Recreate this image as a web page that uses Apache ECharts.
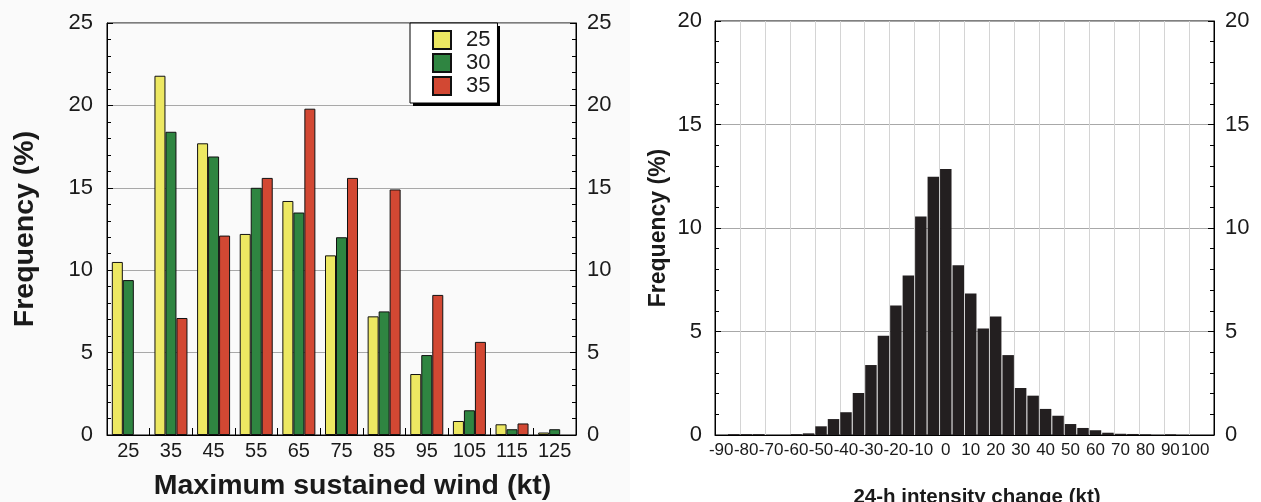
<!DOCTYPE html>
<html>
<head>
<meta charset="utf-8">
<script src="https://cdn.jsdelivr.net/npm/echarts@6.0.0/dist/echarts.min.js"></script>
<style>
  html, body { margin: 0; padding: 0; background: #fff; }
  #main { width: 1261px; height: 502px; }
</style>
</head>
<body>
<div id="main"></div>
<script>
// left panel: frequency by maximum sustained wind, three groups
var windCats = ['25', '35', '45', '55', '65', '75', '85', '95', '105', '115', '125'];
var freq25 = [10.5, 21.8, 17.7, 12.2, 14.2, 10.9, 7.2, 3.7, 0.85, 0.65, 0.15];
var freq30 = [9.4, 18.4, 16.9, 15.0, 13.5, 12.0, 7.5, 4.85, 1.5, 0.35, 0.35];
var freq35 = [null, 7.1, 12.1, 15.6, 19.8, 15.6, 14.9, 8.5, 5.65, 0.7, null];

// right panel: 24-h intensity change histogram (5 kt bins)
var changeBins = ['-90', '-85', '-80', '-75', '-70', '-65', '-60', '-55', '-50', '-45',
                  '-40', '-35', '-30', '-25', '-20', '-15', '-10', '-5', '0', '5',
                  '10', '15', '20', '25', '30', '35', '40', '45', '50', '55',
                  '60', '65', '70', '75', '80', '85', '90', '95', '100', '105'];
var changeFreq = [0, 0.04, 0.04, 0.04, 0, 0, 0.04, 0.08, 0.42, 0.77,
                  1.1, 2.03, 3.38, 4.8, 6.26, 7.7, 10.56, 12.48, 12.85, 8.2,
                  6.84, 5.15, 5.72, 3.86, 2.27, 1.9, 1.26, 0.93, 0.53, 0.34,
                  0.23, 0.11, 0.06, 0.05, 0.03, 0, 0.03, 0, 0, 0];

var font = '"Liberation Sans", Arial, Helvetica, sans-serif';
var ink = '#1a1a1a';

function freqAxis(grid, pos, max, labelSize, margin, name, nameSize, nameGap) {
	return {
		type: 'value',
		gridIndex: grid,
		position: pos,
		min: 0,
		max: max,
		interval: 5,
		name: name,
		nameLocation: 'middle',
		nameGap: nameGap,
		nameTextStyle: { fontFamily: font, fontSize: nameSize, fontWeight: 'bold', color: ink },
		axisLine: { show: true, lineStyle: { color: '#000', width: 1 } },
		axisTick: { show: true, inside: true, length: 6, lineStyle: { color: '#000' } },
		minorTick: { show: true, splitNumber: 5, length: 4, lineStyle: { color: '#000' } },
		axisLabel: { fontFamily: font, fontSize: labelSize, color: ink, margin: margin },
		splitLine: { show: pos === 'left', lineStyle: { color: '#a8a8a8', width: 1 } }
	};
}

var barBorder = { borderColor: '#111', borderWidth: 1 };

var chart = echarts.init(document.getElementById('main'));
chart.setOption({
	backgroundColor: '#ffffff',
	animation: false,
	graphic: [
		{
			type: 'rect',
			z: -10,
			shape: { x: 0, y: 0, width: 630, height: 502 },
			style: { fill: '#fafafa' },
			silent: true
		},
		// hard drop shadow behind the legend box
		{
			type: 'rect',
			z: 1,
			shape: { x: 413, y: 26, width: 87, height: 80 },
			style: { fill: '#000' },
			silent: true
		}
	],
	legend: {
		left: 410,
		top: 23,
		orient: 'vertical',
		data: ['25', '30', '35'],
		itemWidth: 18,
		itemHeight: 18,
		itemGap: 1,
		padding: [6, 7, 6, 22],
		icon: 'rect',
		backgroundColor: '#fff',
		borderColor: '#000',
		borderWidth: 1,
		textStyle: { fontFamily: font, fontSize: 22, color: ink, padding: [0, 0, 0, 10] }
	},
	grid: [
		{ left: 107, right: 685, top: 23, bottom: 67, outerBoundsMode: 'none', show: true, borderColor: '#000', borderWidth: 1, backgroundColor: 'transparent' },
		{ left: 715, right: 47, top: 21, bottom: 67, outerBoundsMode: 'none', show: true, borderColor: '#000', borderWidth: 1, backgroundColor: '#fff' }
	],
	xAxis: [
		{
			type: 'category',
			gridIndex: 0,
			data: windCats,
			name: 'Maximum sustained wind (kt)',
			nameLocation: 'middle',
			nameGap: 37,
			nameTextStyle: { fontFamily: font, fontSize: 28.5, fontWeight: 'bold', color: ink, padding: [0, 0, 0, 22] },
			axisLine: { lineStyle: { color: '#000', width: 1 } },
			axisTick: { show: true, inside: true, length: 7, lineStyle: { color: '#000' } },
			axisLabel: { fontFamily: font, fontSize: 20, color: ink, margin: 6, interval: 0 },
			splitLine: { show: false }
		},
		{
			type: 'category',
			gridIndex: 1,
			data: changeBins,
			name: '24-h intensity change (kt)',
			nameLocation: 'middle',
			nameGap: 52,
			nameTextStyle: { fontFamily: font, fontSize: 20.5, fontWeight: 'bold', color: ink, padding: [0, 0, 0, 25] },
			axisLine: { lineStyle: { color: '#000', width: 1 } },
			axisTick: { show: false },
			axisLabel: { fontFamily: font, fontSize: 17, color: ink, margin: 7, interval: 1 },
			splitLine: { show: true, interval: 1, lineStyle: { color: '#d4d4d4', width: 1 } }
		}
	],
	yAxis: [
		freqAxis(0, 'left', 25, 22, 14, 'Frequency (%)', 28.5, 67),
		freqAxis(0, 'right', 25, 22, 11, '', 12, 10),
		freqAxis(1, 'left', 20, 22, 13, 'Frequency (%)', 23, 45),
		freqAxis(1, 'right', 20, 22, 11, '', 12, 10)
	],
	series: [
		{ name: '25', type: 'bar', xAxisIndex: 0, yAxisIndex: 0, data: freq25, barWidth: 11, barGap: '0%',
		  itemStyle: Object.assign({ color: '#ede862' }, barBorder) },
		{ name: '30', type: 'bar', xAxisIndex: 0, yAxisIndex: 0, data: freq30, barWidth: 11, barGap: '0%',
		  itemStyle: Object.assign({ color: '#2f8541' }, barBorder) },
		{ name: '35', type: 'bar', xAxisIndex: 0, yAxisIndex: 0, data: freq35, barWidth: 11, barGap: '0%',
		  itemStyle: Object.assign({ color: '#d24833' }, barBorder) },
		{ name: 'change', type: 'bar', xAxisIndex: 1, yAxisIndex: 2, data: changeFreq, barWidth: '92%',
		  itemStyle: { color: '#231f20' } }
	]
});
</script>
</body>
</html>
